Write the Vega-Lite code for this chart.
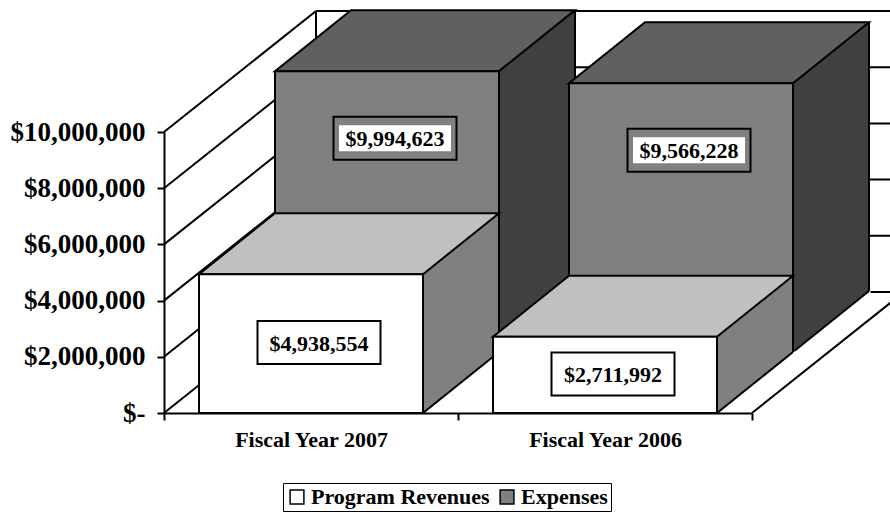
{
  "$schema": "https://vega.github.io/schema/vega-lite/v6.json",
  "width": 588,
  "height": 281,
  "autosize": {"type": "none"},
  "padding": {"left": 164, "top": 132, "right": 138, "bottom": 99},
  "background": "white",
  "config": {
    "view": {"stroke": null},
    "font": "Liberation Serif"
  },
  "datasets": {
    "bars": [
      {"category": "Fiscal Year 2007", "series": "Program Revenues", "value": 4938554},
      {"category": "Fiscal Year 2007", "series": "Expenses", "value": 9994623},
      {"category": "Fiscal Year 2006", "series": "Program Revenues", "value": 2711992},
      {"category": "Fiscal Year 2006", "series": "Expenses", "value": 9566228}
    ],
    "ticks": [
      {"v": 0}, {"v": 2000000}, {"v": 4000000}, {"v": 6000000}, {"v": 8000000}, {"v": 10000000}
    ],
    "one": [{"k": 1}]
  },
  "layer": [
    {
      "layer": [
        {
          "data": {"name": "ticks"},
          "mark": {"type": "rule", "color": "black", "strokeWidth": 2, "xOffset": 152, "x2Offset": 170, "yOffset": -121},
          "encoding": {
            "x": {"datum": "Fiscal Year 2007", "type": "nominal", "bandPosition": 0, "scale": {"type": "band", "domain": ["Fiscal Year 2007", "Fiscal Year 2006"], "paddingInner": 0, "paddingOuter": 0}, "axis": {"zindex": 1, "domainColor": "black", "domainWidth": 2, "tickColor": "black", "tickWidth": 2, "tickSize": 7, "tickBand": "extent", "labelFont": "Liberation Serif", "labelFontWeight": "bold", "labelFontSize": 22, "labelColor": "black", "labelPadding": 9, "labelAngle": 0, "title": null, "values": ["Fiscal Year 2007", "Fiscal Year 2006"]}},
            "x2": {"datum": "Fiscal Year 2006", "bandPosition": 1},
            "y": {"field": "v", "type": "quantitative", "scale": {"domain": [0, 10000000], "nice": false, "zero": true}, "axis": {"zindex": 1, "values": [0, 2000000, 4000000, 6000000, 8000000, 10000000], "labelExpr": "datum.value === 0 ? '$-' : '$' + format(datum.value, ',')", "domainColor": "black", "domainWidth": 2, "tickColor": "black", "tickWidth": 2, "tickSize": 7, "grid": false, "labelFont": "Liberation Serif", "labelFontWeight": "bold", "labelFontSize": 27, "labelColor": "black", "labelPadding": 12, "title": null}}
          }
        },
        {
          "data": {"name": "one"},
          "mark": {"type": "rule", "color": "black", "strokeWidth": 2, "xOffset": 152, "yOffset": -121, "y2Offset": -121},
          "encoding": {
            "x": {"datum": "Fiscal Year 2007", "type": "nominal", "bandPosition": 0},
            "y": {"datum": 0, "type": "quantitative"},
            "y2": {"datum": 10000000}
          }
        },
        {
          "data": {"name": "ticks"},
          "mark": {"type": "rule", "color": "black", "strokeWidth": 2, "x2Offset": 152, "y2Offset": -121},
          "encoding": {
            "x": {"datum": "Fiscal Year 2007", "type": "nominal", "bandPosition": 0},
            "x2": {"datum": "Fiscal Year 2007", "bandPosition": 0},
            "y": {"field": "v", "type": "quantitative"},
            "y2": {"field": "v"}
          }
        },
        {
          "data": {"name": "bars"},
          "transform": [{"filter": "datum.series === 'Expenses'"}],
          "mark": {"type": "bar", "width": 76, "fill": "#404040", "xOffset": 226, "yOffset": -122, "y2Offset": -61},
          "encoding": {
            "x": {"field": "category", "type": "nominal"},
            "y": {"field": "value", "type": "quantitative"},
            "y2": {"datum": 0}
          }
        },
        {
          "data": {"name": "bars"},
          "transform": [{"filter": "datum.series === 'Expenses'"}],
          "mark": {"type": "point", "shape": "M111,1 L189.5,-62.5 L189.5,1 Z", "size": 4, "filled": true, "fill": "white", "strokeWidth": 0, "opacity": 1, "xOffset": 76, "yOffset": -61},
          "encoding": {
            "x": {"field": "category", "type": "nominal"},
            "y": {"datum": 0, "type": "quantitative"}
          }
        },
        {
          "data": {"name": "bars"},
          "transform": [{"filter": "datum.series === 'Expenses'"}],
          "mark": {"type": "rule", "color": "black", "strokeWidth": 2, "xOffset": 264, "yOffset": -122, "y2Offset": -122},
          "encoding": {
            "x": {"field": "category", "type": "nominal"},
            "y": {"field": "value", "type": "quantitative"},
            "y2": {"datum": 0}
          }
        },
        {
          "data": {"name": "bars"},
          "transform": [{"filter": "datum.series === 'Expenses'"}],
          "mark": {"type": "rule", "color": "black", "strokeWidth": 2, "xOffset": 188, "x2Offset": 264, "yOffset": -61, "y2Offset": -122},
          "encoding": {
            "x": {"field": "category", "type": "nominal"},
            "x2": {"field": "category"},
            "y": {"datum": 0, "type": "quantitative"},
            "y2": {"datum": 0}
          }
        },
        {
          "data": {"name": "bars"},
          "transform": [{"filter": "datum.series === 'Expenses'"}],
          "mark": {"type": "point", "shape": "M-112,0 L112,0 L188,-61 L-36,-61 Z", "size": 4, "filled": true, "fill": "#606060", "stroke": "black", "strokeWidth": 2, "strokeJoin": "miter", "opacity": 1, "xOffset": 76, "yOffset": -61},
          "encoding": {
            "x": {"field": "category", "type": "nominal"},
            "y": {"field": "value", "type": "quantitative"}
          }
        },
        {
          "data": {"name": "bars"},
          "transform": [{"filter": "datum.series === 'Expenses'"}],
          "mark": {"type": "bar", "width": 224, "stroke": "black", "strokeWidth": 2, "xOffset": 76, "yOffset": -61, "y2Offset": -61},
          "encoding": {
            "x": {"field": "category", "type": "nominal"},
            "y": {"field": "value", "type": "quantitative"},
            "y2": {"datum": 0},
            "fill": {"field": "series", "type": "nominal", "scale": {"domain": ["Program Revenues", "Expenses"], "range": ["#ffffff", "#808080"]}, "legend": {"orient": "none", "legendX": 119, "legendY": 351, "direction": "horizontal", "title": null, "strokeColor": "black", "fillColor": "white", "padding": 3, "columnPadding": 6, "symbolType": "square", "symbolSize": 190, "symbolStrokeColor": "black", "symbolStrokeWidth": 1.5, "labelFont": "Liberation Serif", "labelFontWeight": "bold", "labelFontSize": 22, "labelColor": "black", "labelLimit": 400, "labelOffset": 3}}
          }
        },
        {
          "data": {"name": "bars"},
          "transform": [{"filter": "datum.series === 'Program Revenues'"}],
          "mark": {"type": "bar", "width": 76, "fill": "#808080", "xOffset": 150, "yOffset": -61, "y2Offset": 0},
          "encoding": {
            "x": {"field": "category", "type": "nominal"},
            "y": {"field": "value", "type": "quantitative"},
            "y2": {"datum": 0}
          }
        },
        {
          "data": {"name": "bars"},
          "transform": [{"filter": "datum.series === 'Program Revenues'"}],
          "mark": {"type": "point", "shape": "M111,1 L189.5,-62.5 L189.5,1 Z", "size": 4, "filled": true, "fill": "white", "strokeWidth": 0, "opacity": 1},
          "encoding": {
            "x": {"field": "category", "type": "nominal"},
            "y": {"datum": 0, "type": "quantitative"}
          }
        },
        {
          "data": {"name": "bars"},
          "transform": [{"filter": "datum.series === 'Program Revenues'"}],
          "mark": {"type": "rule", "color": "black", "strokeWidth": 2, "xOffset": 188, "yOffset": -61, "y2Offset": -61},
          "encoding": {
            "x": {"field": "category", "type": "nominal"},
            "y": {"field": "value", "type": "quantitative"},
            "y2": {"datum": 0}
          }
        },
        {
          "data": {"name": "bars"},
          "transform": [{"filter": "datum.series === 'Program Revenues'"}],
          "mark": {"type": "rule", "color": "black", "strokeWidth": 2, "xOffset": 112, "x2Offset": 188, "y2Offset": -61},
          "encoding": {
            "x": {"field": "category", "type": "nominal"},
            "x2": {"field": "category"},
            "y": {"datum": 0, "type": "quantitative"},
            "y2": {"datum": 0}
          }
        },
        {
          "data": {"name": "bars"},
          "transform": [{"filter": "datum.series === 'Program Revenues'"}],
          "mark": {"type": "point", "shape": "M-112,0 L112,0 L188,-61 L-36,-61 Z", "size": 4, "filled": true, "fill": "#c0c0c0", "stroke": "black", "strokeWidth": 2, "strokeJoin": "miter", "opacity": 1},
          "encoding": {
            "x": {"field": "category", "type": "nominal"},
            "y": {"field": "value", "type": "quantitative"}
          }
        },
        {
          "data": {"name": "bars"},
          "transform": [{"filter": "datum.series === 'Program Revenues'"}],
          "mark": {"type": "bar", "width": 224, "stroke": "black", "strokeWidth": 2},
          "encoding": {
            "x": {"field": "category", "type": "nominal"},
            "y": {"field": "value", "type": "quantitative"},
            "y2": {"datum": 0},
            "fill": {"field": "series", "type": "nominal"}
          }
        },
        {
          "data": {"name": "one"},
          "mark": {"type": "rule", "color": "black", "strokeWidth": 2, "x2Offset": 152, "y2Offset": -121},
          "encoding": {
            "x": {"datum": "Fiscal Year 2006", "type": "nominal", "bandPosition": 1},
            "x2": {"datum": "Fiscal Year 2006", "bandPosition": 1},
            "y": {"datum": 0, "type": "quantitative"},
            "y2": {"datum": 0}
          }
        },
        {
          "data": {"name": "bars"},
          "transform": [{"filter": "datum.series === 'Expenses'"}],
          "mark": {"type": "point", "shape": "M-61.5,-21.5 L61.5,-21.5 L61.5,21.5 L-61.5,21.5 Z", "size": 4, "filled": false, "stroke": "black", "strokeWidth": 2, "opacity": 1, "xOffset": 84, "yOffset": 6},
          "encoding": {
            "x": {"field": "category", "type": "nominal"},
            "y": {"field": "value", "type": "quantitative"}
          }
        },
        {
          "data": {"name": "bars"},
          "transform": [{"filter": "datum.series === 'Expenses'"}],
          "mark": {"type": "point", "shape": "M-56,-13 L56,-13 L56,13 L-56,13 Z", "size": 4, "filled": true, "fill": "white", "strokeWidth": 0, "opacity": 1, "xOffset": 84, "yOffset": 6},
          "encoding": {
            "x": {"field": "category", "type": "nominal"},
            "y": {"field": "value", "type": "quantitative"}
          }
        },
        {
          "data": {"name": "bars"},
          "transform": [{"filter": "datum.series === 'Expenses'"}],
          "mark": {"type": "text", "font": "Liberation Serif", "fontWeight": "bold", "fontSize": 22, "color": "black", "align": "center", "baseline": "middle", "dx": 84, "dy": 7},
          "encoding": {
            "x": {"field": "category", "type": "nominal"},
            "y": {"field": "value", "type": "quantitative"},
            "text": {"field": "value", "type": "quantitative", "format": "$,d"}
          }
        }
      ]
    },
    {
      "data": {"name": "bars"},
      "transform": [{"filter": "datum.series === 'Program Revenues'"}],
      "encoding": {
        "x": {"field": "category", "type": "nominal"},
        "y": {"field": "value", "type": "quantitative", "scale": {"domain": [0, 20000000], "nice": false, "zero": true}, "axis": null}
      },
      "layer": [
        {
          "mark": {"type": "point", "shape": "M-61.5,-21.5 L61.5,-21.5 L61.5,21.5 L-61.5,21.5 Z", "size": 4, "filled": false, "stroke": "black", "strokeWidth": 2, "opacity": 1, "xOffset": 8, "yOffset": -1}
        },
        {
          "mark": {"type": "text", "font": "Liberation Serif", "fontWeight": "bold", "fontSize": 22, "color": "black", "align": "center", "baseline": "middle", "dx": 8, "dy": 0},
          "encoding": {
            "text": {"field": "value", "type": "quantitative", "format": "$,d"}
          }
        }
      ]
    }
  ],
  "resolve": {"scale": {"y": "independent"}}
}
